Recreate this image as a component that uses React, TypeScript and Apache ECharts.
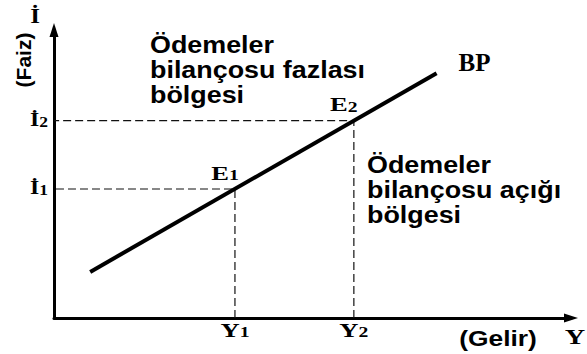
import { useEffect, useRef } from "react";
import * as echarts from "echarts";

// BP (balance of payments) curve in the interest rate / income plane
const bpCurve: [number, number][] = [
  [7, 16],
  [74, 85],
];
const incomeLevels = [35, 58]; // Y1, Y2
const interestLevels = [44.8, 68.5]; // İ1, İ2
const incomeTickLabels = ["Y1", "Y2"];
const interestTickLabels = ["İ1", "İ2"];
const equilibriumLabels = ["E1", "E2"];
const curveLabel = "BP";
const surplusText = ["Ödemeler", "bilançosu fazlası", "bölgesi"];
const deficitText = ["Ödemeler", "bilançosu açığı", "bölgesi"];
const yAxisTitle = "(Faiz)";
const yAxisSymbol = "İ";
const xAxisTitle = "(Gelir)";
const xAxisSymbol = "Y";

const SERIF = '"Liberation Serif", "Times New Roman", serif';
const SANS = '"Liberation Sans", Arial, sans-serif';

// "Y1" -> "{m|Y}{s|1}" : main letter plus a smaller index
const subscripted = (s: string) => `{m|${s.slice(0, -1)}}{s|${s.slice(-1)}}`;

const serifRich = (size: number) => ({
  m: {
    fontFamily: SERIF,
    fontWeight: "bold",
    fontSize: size,
    lineHeight: size,
    color: "#000",
    verticalAlign: "bottom",
  },
  s: {
    fontFamily: SERIF,
    fontWeight: "bold",
    fontSize: Math.round(size * 0.74),
    lineHeight: Math.round(size * 0.74),
    color: "#000",
    verticalAlign: "bottom",
  },
});

export default function App() {
  const ref = useRef<HTMLDivElement>(null);

  useEffect(() => {
    if (!ref.current) return;
    const chart = echarts.init(ref.current, null, { renderer: "svg" });

    const axisLine = {
      show: true,
      onZero: false,
      symbol: ["none", "triangle"],
      symbolSize: [9, 14],
      lineStyle: { color: "#000", width: 3 },
    };

    const guides = incomeLevels.map((x, i) => ({
      type: "line",
      data: [
        [x, 0],
        [x, interestLevels[i]],
        [0, interestLevels[i]],
      ],
      showSymbol: false,
      silent: true,
      lineStyle: { color: "#111", width: 1.2, type: [8, 4] },
      z: 2,
    }));

    chart.setOption({
      animation: false,
      backgroundColor: "#fff",
      grid: { left: 54, right: 16, top: 30, bottom: 36 },
      xAxis: {
        type: "value",
        min: 0,
        max: 100,
        splitLine: { show: false },
        axisTick: { show: false },
        axisLabel: { show: false },
        axisLine,
      },
      yAxis: {
        type: "value",
        min: 0,
        max: 100,
        splitLine: { show: false },
        axisTick: { show: false },
        axisLabel: { show: false },
        axisLine,
      },
      series: [
        ...guides,
        {
          type: "line",
          data: bpCurve,
          showSymbol: false,
          silent: true,
          lineStyle: { color: "#000", width: 4 },
          z: 3,
        },
      ],
    });

    const toPx = (p: number[]) => chart.convertToPixel({ gridIndex: 0 }, p) as number[];
    const origin = toPx([0, 0]);
    const yTop = toPx([0, 100]);
    const xEnd = toPx([100, 0]);
    const bpEnd = toPx(bpCurve[1]);

    // wide bold serif label centred on (x, y)
    const serifLabel = (text: string, x: number, y: number, size: number, scaleX = 1.4) => ({
      type: "text",
      x,
      y,
      scaleX,
      style: {
        text,
        rich: serifRich(size),
        align: "center",
        verticalAlign: "middle",
      },
    });

    const sansBlock = (lines: string[], x: number, y: number) => ({
      type: "text",
      x,
      y,
      scaleX: 1.12,
      style: {
        text: lines.join("\n"),
        font: `bold 24px ${SANS}`,
        lineHeight: 25,
        fill: "#000",
        textVerticalAlign: "top",
      },
    });

    const graphic: any[] = [
      // tick labels on the income axis
      ...incomeTickLabels.map((label, i) => {
        const [px] = toPx([incomeLevels[i], 0]);
        return serifLabel(subscripted(label), px, origin[1] + 12, 19);
      }),
      // tick labels on the interest axis
      ...interestTickLabels.map((label, i) => {
        const [, py] = toPx([0, interestLevels[i]]);
        return serifLabel(subscripted(label), origin[0] - 15, py - 1, 19, 1.25);
      }),
      // equilibrium points on the BP curve
      ...equilibriumLabels.map((label, i) => {
        const [px, py] = toPx([incomeLevels[i], interestLevels[i]]);
        return serifLabel(subscripted(label), px - 10, py - 16, 19);
      }),
      {
        type: "text",
        x: bpEnd[0] + 22,
        y: bpEnd[1] - 11,
        style: {
          text: curveLabel,
          font: `bold 25px ${SERIF}`,
          fill: "#000",
          align: "left",
          verticalAlign: "middle",
        },
      },
      {
        type: "text",
        x: yTop[0] - 19,
        y: yTop[1] - 4,
        scaleX: 1.25,
        style: {
          text: yAxisSymbol,
          font: `bold 20px ${SERIF}`,
          fill: "#000",
          align: "center",
          verticalAlign: "bottom",
        },
      },
      {
        type: "text",
        x: origin[0] - 31,
        y: yTop[1] + 30,
        rotation: Math.PI / 2,
        style: {
          text: yAxisTitle,
          font: `bold 21px ${SANS}`,
          fill: "#000",
          align: "center",
          verticalAlign: "middle",
        },
      },
      {
        type: "text",
        x: xEnd[0] - 73,
        y: origin[1] + 20,
        scaleX: 1.2,
        style: {
          text: xAxisTitle,
          font: `bold 22px ${SANS}`,
          fill: "#000",
          align: "center",
          verticalAlign: "middle",
        },
      },
      {
        type: "text",
        x: xEnd[0] + 4,
        y: origin[1] + 19,
        scaleX: 1.35,
        style: {
          text: xAxisSymbol,
          font: `bold 21px ${SERIF}`,
          fill: "#000",
          align: "center",
          verticalAlign: "middle",
        },
      },
      sansBlock(surplusText, origin[0] + 96, 32),
      sansBlock(deficitText, origin[0] + 313, 152),
    ];

    chart.setOption({ graphic });

    return () => chart.dispose();
  }, []);

  return (
    <div
      ref={ref}
      style={{ position: "fixed", left: 0, top: 0, width: 587, height: 354, background: "#fff" }}
    />
  );
}
